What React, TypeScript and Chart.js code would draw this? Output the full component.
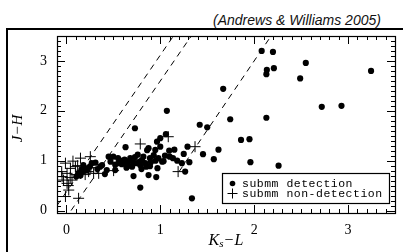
import React, { useEffect, useRef } from "react";
import { Chart, registerables } from "chart.js";

Chart.register(...registerables);

// Axis ranges and tick labels
const xRange: [number, number] = [-0.1, 3.5];
const yRange: [number, number] = [-0.05, 3.5];
const xTickValues = [0, 1, 2, 3];
const yTickValues = [0, 1, 2, 3];

// submm detections (Ks-L, J-H)
const detections: [number, number][] = [
  [2.08, 3.2], [2.2, 3.18], [2.55, 2.96], [2.135, 2.82], [2.21, 2.855], [2.13, 2.735],
  [2.49, 2.65], [3.245, 2.8], [1.67, 2.44], [2.72, 2.08], [2.93, 2.1], [1.745, 1.83],
  [2.13, 1.86], [1.07, 2.0], [1.42, 1.72], [1.5, 1.67], [1.86, 1.415], [1.95, 1.43],
  [1.62, 1.22], [1.06, 1.53], [0.73, 1.65], [1.29, 1.28], [1.0, 1.28], [1.095, 1.2],
  [1.25, 1.135], [1.455, 1.13], [1.035, 0.99], [1.135, 1.05], [1.57, 1.03], [1.23, 0.95],
  [1.31, 0.97], [1.96, 0.97], [2.26, 0.9], [1.265, 0.78], [1.337, 0.245], [0.787, 0.46],
  [1.0, 1.45], [0.965, 1.38], [0.63, 1.27], [0.875, 1.25], [0.947, 1.215], [0.45, 1.08],
  [0.5, 1.08], [0.89, 1.05], [0.805, 1.01], [0.75, 0.95], [0.66, 0.98], [0.59, 0.93],
  [0.52, 0.81], [0.43, 0.81], [0.38, 0.91], [0.41, 0.73], [0.715, 0.69], [0.875, 0.71],
  [0.957, 0.67], [0.97, 0.85], [0.73, 1.07], [0.86, 1.21], [0.93, 1.11], [1.1, 1.08],
  [0.31, 0.96], [0.36, 0.88], [0.556, 0.95], [0.61, 0.95], [0.716, 0.96], [0.787, 0.91],
  [0.89, 0.89], [1.02, 0.98], [0.18, 0.91], [0.2, 0.85], [0.17, 0.78], [0.13, 0.75],
  [0.106, 0.68], [0.15, 0.7], [0.16, 0.82], [0.22, 0.8], [0.66, 0.9], [0.8, 0.83],
  [0.84, 0.95], [0.95, 1.0], [0.25, 0.88], [0.55, 1.05], [1.15, 1.22],
  [0.47, 0.98], [0.52, 0.92], [0.62, 1.02], [0.68, 1.05], [0.7, 0.88], [0.78, 0.98],
  [0.82, 1.08], [0.85, 0.88], [0.9, 0.97], [0.98, 1.05], [1.05, 1.1], [0.76, 1.12],
  [0.64, 0.86], [0.58, 1.0], [0.33, 0.83], [0.27, 0.95], [1.18, 1.0],
];

// submm non-detections
const nonDetections: [number, number][] = [
  [1.085, 1.48], [1.37, 1.28], [1.19, 0.78], [0.787, 1.335], [0.255, 1.08], [0.15, 1.05],
  [-0.01, 0.95], [0.096, 0.88], [0.043, 0.845], [-0.05, 0.78], [0.007, 0.745], [0.06, 0.61],
  [0.007, 0.545], [0.025, 0.41], [0.13, 0.245], [-0.01, 0.28], [0.237, 0.78], [0.29, 0.745],
  [0.344, 0.745], [0.149, 0.745], [-0.046, 0.68], [-0.03, 0.61], [0.503, 0.8], [0.04, 0.66],
  [0.1, 0.72], [0.2, 0.72], [0.07, 0.99], [0.12, 0.9], [0.26, 0.86], [0.02, 0.5],
];

// dashed reddening lines: [start, end] in data coordinates
const dashedLines: [number, number][][] = [
  [[-0.1, 0.1], [1.14, 3.5]],
  [[0.05, 0.0], [1.33, 3.5]],
  [[1.2, 0.78], [2.18, 3.5]],
];

const legendLabels = ["submm detection", "submm non-detection"];
const citation = "(Andrews & Williams 2005)";

const idlPlugin = {
  id: "idlFrame",
  afterDraw(chart: any) {
    const { ctx, chartArea: a, scales } = chart;
    const xs = scales.x;
    const ys = scales.y;
    ctx.save();
    ctx.strokeStyle = "#000";
    ctx.lineWidth = 1.2;
    ctx.strokeRect(Math.round(a.left) + 0.5, Math.round(a.top) + 0.5, Math.round(a.right - a.left), Math.round(a.bottom - a.top));

    ctx.beginPath();
    ctx.lineWidth = 1;
    for (let i = Math.ceil(xs.min * 10); i <= Math.floor(xs.max * 10); i++) {
      const px = Math.round(xs.getPixelForValue(i / 10)) + 0.5;
      const len = i % 10 === 0 ? 8 : 4;
      ctx.moveTo(px, a.bottom);
      ctx.lineTo(px, a.bottom - len);
      ctx.moveTo(px, a.top);
      ctx.lineTo(px, a.top + len);
    }
    for (let i = Math.ceil(ys.min * 10); i <= Math.floor(ys.max * 10); i++) {
      const py = Math.round(ys.getPixelForValue(i / 10)) + 0.5;
      const len = i % 10 === 0 ? 8 : 4;
      ctx.moveTo(a.left, py);
      ctx.lineTo(a.left + len, py);
      ctx.moveTo(a.right, py);
      ctx.lineTo(a.right - len, py);
    }
    ctx.stroke();

    // legend box
    const lx = a.right - 173;
    const ly = a.bottom - 40;
    const lw = 167;
    const lh = 30;
    ctx.fillStyle = "#fff";
    ctx.fillRect(lx, ly, lw, lh);
    ctx.lineWidth = 1.2;
    ctx.strokeRect(lx + 0.5, ly + 0.5, lw, lh);
    ctx.fillStyle = "#000";
    ctx.beginPath();
    ctx.arc(lx + 10.5, ly + 10.5, 2.8, 0, Math.PI * 2);
    ctx.fill();
    ctx.beginPath();
    ctx.lineWidth = 1;
    ctx.moveTo(lx + 5.5, ly + 20.5);
    ctx.lineTo(lx + 15.5, ly + 20.5);
    ctx.moveTo(lx + 10.5, ly + 15.5);
    ctx.lineTo(lx + 10.5, ly + 25.5);
    ctx.stroke();
    ctx.font = "11.5px 'Liberation Mono'";
    (ctx as any).letterSpacing = "0.5px";
    ctx.textBaseline = "alphabetic";
    ctx.textAlign = "left";
    ctx.fillText(legendLabels[0], lx + 20, ly + 14);
    ctx.fillText(legendLabels[1], lx + 20, ly + 24);
    (ctx as any).letterSpacing = "0px";

    // axis titles
    const cx = (a.left + a.right) / 2;
    const big = "italic 16px 'Liberation Serif'";
    ctx.font = big;
    const kW = ctx.measureText("K").width;
    ctx.font = "italic 11px 'Liberation Serif'";
    const sW = ctx.measureText("s").width;
    ctx.font = "16px 'Liberation Serif'";
    const dW = ctx.measureText("\u2212").width;
    ctx.font = big;
    const lW = ctx.measureText("L").width;
    let tx = cx - (kW + sW + dW + lW + 2) / 2;
    const by = 245;
    ctx.font = big;
    ctx.fillText("K", tx, by);
    tx += kW;
    ctx.font = "italic 11px 'Liberation Serif'";
    ctx.fillText("s", tx, by + 2);
    tx += sW + 1;
    ctx.font = "16px 'Liberation Serif'";
    ctx.fillText("\u2212", tx, by);
    tx += dW + 1;
    ctx.font = big;
    ctx.fillText("L", tx, by);

    ctx.translate(22, (a.top + a.bottom) / 2 + 4);
    ctx.rotate(-Math.PI / 2);
    ctx.textAlign = "center";
    ctx.font = "italic 15px 'Liberation Serif'";
    ctx.fillText("J\u2212H", 0, 0);
    ctx.restore();
  },
};

export default function App() {
  const ref = useRef<HTMLCanvasElement | null>(null);
  useEffect(() => {
    if (!ref.current) return;
    const lineSets = dashedLines.map((seg) => ({
      type: "line" as const,
      data: seg.map(([x, y]) => ({ x, y })),
      borderColor: "#000",
      borderWidth: 1,
      borderDash: [6, 5],
      pointRadius: 0,
      showLine: true,
      fill: false,
      tension: 0,
    }));
    const chart = new Chart(ref.current, {
      type: "scatter",
      data: {
        datasets: [
          ...lineSets,
          {
            label: legendLabels[0],
            data: detections.map(([x, y]) => ({ x, y })),
            pointStyle: "circle",
            pointRadius: 3.1,
            backgroundColor: "#000",
            borderColor: "#000",
            borderWidth: 0,
          },
          {
            label: legendLabels[1],
            data: nonDetections.map(([x, y]) => ({ x, y })),
            pointStyle: "cross",
            pointRadius: 5.5,
            backgroundColor: "#000",
            borderColor: "#000",
            borderWidth: 1,
          },
        ] as any,
      },
      options: {
        animation: false,
        responsive: false,
        events: [],
        layout: { padding: { left: 0, right: 8, top: 36, bottom: 0 } },
        plugins: { legend: { display: false }, tooltip: { enabled: false } },
        scales: {
          x: {
            type: "linear",
            min: xRange[0],
            max: xRange[1],
            afterFit: (s: any) => {
              s.height = 39;
            },
            afterBuildTicks: (s: any) => {
              s.ticks = xTickValues.map((v) => ({ value: v }));
            },
            grid: { display: false, drawTicks: false },
            border: { display: false },
            ticks: {
              padding: 9,
              color: "#000",
              font: { family: "'Liberation Serif'", size: 14 },
              callback: (v: any) => String(v),
            },
          },
          y: {
            type: "linear",
            min: yRange[0],
            max: yRange[1],
            afterFit: (s: any) => {
              s.width = 57;
            },
            afterBuildTicks: (s: any) => {
              s.ticks = yTickValues.map((v) => ({ value: v }));
            },
            grid: { display: false, drawTicks: false },
            border: { display: false },
            ticks: {
              padding: 10,
              color: "#000",
              font: { family: "'Liberation Serif'", size: 14 },
              callback: (v: any) => String(v),
            },
          },
        },
      },
      plugins: [idlPlugin],
    });
    return () => chart.destroy();
  }, []);

  return (
    <div style={{ position: "fixed", left: 0, top: 0, width: 403, height: 252, overflow: "hidden", background: "#fff" }}>
      <div
        style={{
          position: "absolute",
          left: 213,
          top: 12,
          font: "italic 14px 'Liberation Sans'",
          lineHeight: "16px",
          color: "#111",
          whiteSpace: "nowrap",
        }}
      >
        {citation}
      </div>
      <div
        style={{
          position: "absolute",
          left: 6,
          top: 28,
          width: 420,
          height: 260,
          border: "2px solid #000",
          boxSizing: "border-box",
        }}
      />
      <canvas ref={ref} width={403} height={252} style={{ position: "absolute", left: 0, top: 0, width: 403, height: 252 }} />
    </div>
  );
}
